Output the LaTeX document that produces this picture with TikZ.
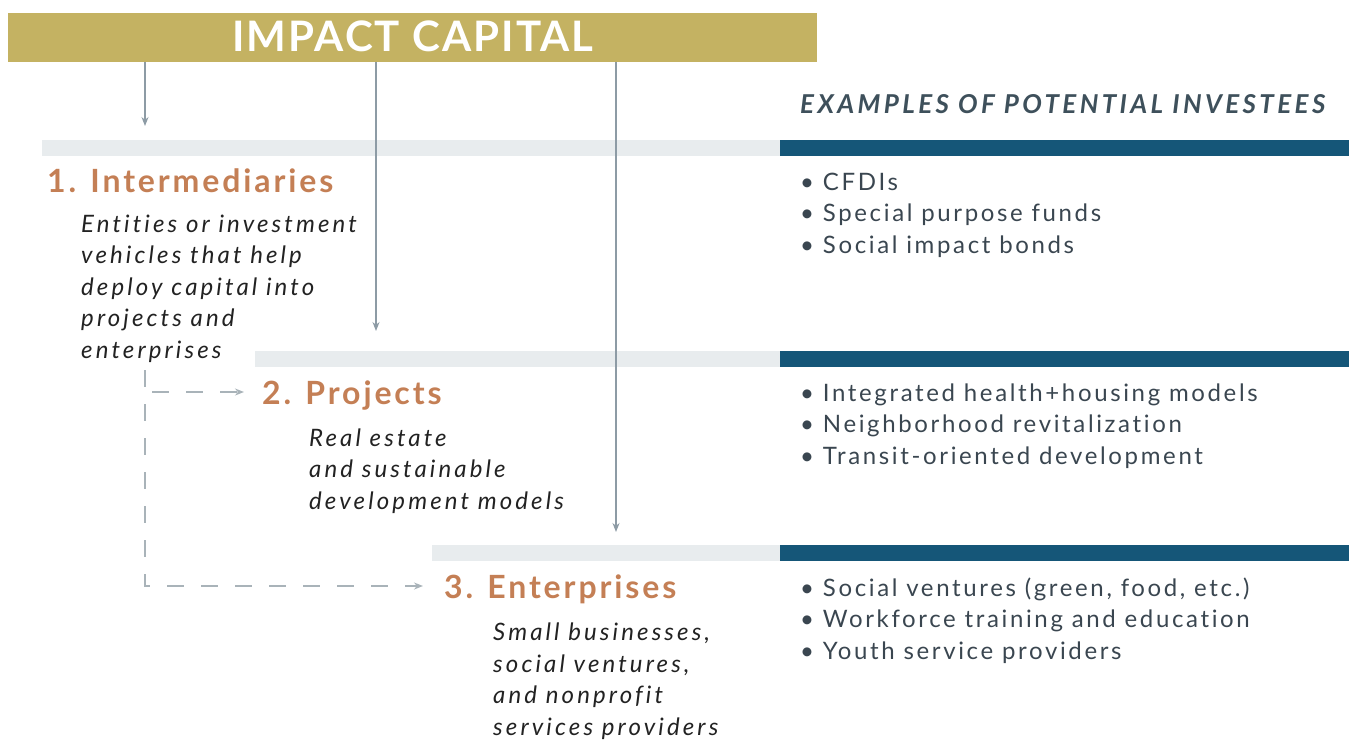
\documentclass[tikz,border=0pt]{standalone}
\usepackage{fontspec}
\usetikzlibrary{arrows.meta}
\newfontfamily\titlef{Lato}[LetterSpace=5]
\newfontfamily\headf{Lato}[LetterSpace=13]
\newfontfamily\stagef{Lato}[LetterSpace=9]
\newfontfamily\descf{Lato}[LetterSpace=13,Ligatures={NoCommon}]
\newfontfamily\bulletf{Lato}[LetterSpace=11,Ligatures={NoCommon}]
\definecolor{gold}{HTML}{C4B262}
\definecolor{copper}{HTML}{C47F55}
\definecolor{navy}{HTML}{155678}
\definecolor{lightbar}{HTML}{E8ECEE}
\definecolor{arrowgray}{HTML}{8D9BA5}
\definecolor{dashgray}{HTML}{A9B3B9}
\definecolor{bullettext}{HTML}{3A4650}
\definecolor{headtext}{HTML}{3E505B}
\definecolor{desctext}{HTML}{222222}
\tikzset{
  bar/.style={fill=lightbar, draw=none},
  bluebar/.style={fill=navy, draw=none},
  feed/.style={draw=arrowgray, line width=1.2pt, -{Stealth[length=9pt,width=7pt]}},
  dashfeed/.style={draw=dashgray, line width=1.5pt, dash pattern=on 17pt off 17pt, -{Stealth[length=9pt,width=7pt]}},
  stagehead/.style={anchor=base west, inner sep=0pt, text=copper, font=\stagef\bfseries\fontsize{32}{36}\selectfont},
  desc/.style={anchor=base west, inner sep=0pt, text=desctext, align=left, font=\descf\itshape\fontsize{24}{31.5}\selectfont},
  bullets/.style={anchor=base west, inner sep=0pt, text=bullettext, align=left, font=\bulletf\fontsize{24}{31.5}\selectfont},
}
\begin{document}
\begin{tikzpicture}[x=1pt,y=-1pt]
\useasboundingbox (0,0) rectangle (1349,741);
% banner
\fill[gold] (8,13) rectangle (817,62);
\node[inner sep=0pt, text=white, font=\titlef\bfseries\fontsize{42}{48}\selectfont, anchor=base] (banner) at (413,52) {IMPACT CAPITAL};
\coordinate (b1) at (145,62);
\coordinate (b2) at (376,62);
\coordinate (b3) at (616,62);
% bars
\fill[bar] (42,140) rectangle (780,156);
\fill[bluebar] (780,140) rectangle (1349,156);
\fill[bar] (255,351) rectangle (780,367);
\fill[bluebar] (780,351) rectangle (1349,367);
\fill[bar] (432,545) rectangle (780,561);
\fill[bluebar] (780,545) rectangle (1349,561);
% arrow ends
\coordinate (e1) at (145,126);
\coordinate (e2) at (376,331);
\coordinate (e3) at (616,532);
\draw[feed] (b1) -- (e1);
\draw[feed] (b2) -- (e2);
\draw[feed] (b3) -- (e3);
% heading
\node[anchor=base west, inner sep=0pt, text=headtext, font=\headf\bfseries\itshape\fontsize{26}{30}\selectfont] (examples) at (800,114) {EXAMPLES OF POTENTIAL INVESTEES};
% stages (base = baseline of last line)
\node[stagehead] (s1) at (47,192) {1. Intermediaries};
\node[desc] (d1) at (81,358) {Entities or investment\\vehicles that help\\deploy capital into\\projects and\\enterprises};
\node[stagehead] (s2) at (262,404) {2. Projects};
\node[desc] (d2) at (309,509) {Real estate\\and sustainable\\development models};
\node[stagehead] (s3) at (444,598) {3. Enterprises};
\node[desc] (d3) at (493,735) {Small businesses,\\social ventures,\\and nonprofit\\services providers};
% bullets
\node[bullets] (l1) at (800,253) {• CFDIs\\• Special purpose funds\\• Social impact bonds};
\node[bullets] (l2) at (800,464) {• Integrated health+housing models\\• Neighborhood revitalization\\• Transit-oriented development};
\node[bullets] (l3) at (800,659) {• Social ventures (green, food, etc.)\\• Workforce training and education\\• Youth service providers};
% dashed connectors
\coordinate (dstart) at (145,370);
\coordinate (dcorner) at (145,586);
\coordinate (dend3) at (423,586);
\coordinate (bstart) at (152,392);
\coordinate (dend2) at (244,392);
\draw[dashfeed] (dstart) -- (dcorner) -- (dend3);
\draw[dashfeed] (bstart) -- (dend2);
\end{tikzpicture}
\end{document}
